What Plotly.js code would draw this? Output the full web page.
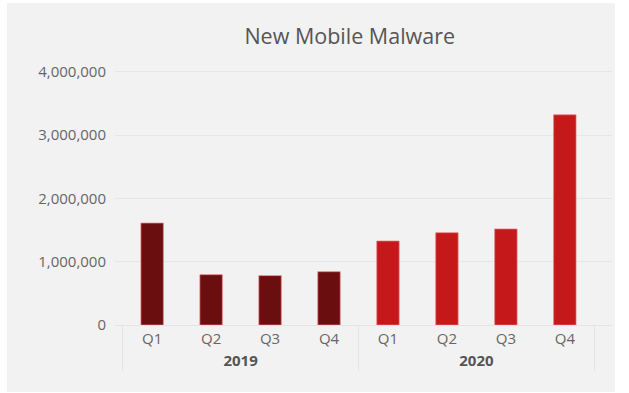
<!DOCTYPE html>
<html>
<head>
<meta charset="utf-8">
<script src="https://cdn.plot.ly/plotly-3.0.1.min.js"></script>
<style>html,body{margin:0;padding:0;background:#fff;}#chart{width:629px;height:393px;}</style>
</head>
<body>
<div id="chart"></div>
<script>
const years = ["2019","2019","2019","2019","2020","2020","2020","2020"];
const quarters = ["Q1","Q2","Q3","Q4","Q1","Q2","Q3","Q4"];
const malware = [1610000, 795000, 780000, 842000, 1327000, 1458000, 1517000, 3320000];
const barColors = ["#6b0e10","#6b0e10","#6b0e10","#6b0e10","#c4181b","#c4181b","#c4181b","#c4181b"];
const yTicks = [0, 1000000, 2000000, 3000000, 4000000];
const yTickText = ["0","1,000,000","2,000,000","3,000,000","4,000,000"];

const trace = {
  type: "bar",
  x: [years, quarters],
  y: malware,
  marker: {color: barColors, line: {color: "rgba(235,120,120,0.7)", width: 1}},
  hoverinfo: "none"
};

const layout = {
  width: 629, height: 393,
  paper_bgcolor: "#ffffff",
  plot_bgcolor: "rgba(0,0,0,0)",
  margin: {l: 115, r: 17, t: 68, b: 68},
  bargap: 0.62,
  showlegend: false,
  title: {text: "New Mobile Malware", x: 0.556, xanchor: "center", y: 0.907, yanchor: "middle",
          font: {family: "Open Sans", size: 21.5, color: "#555555"}},
  font: {family: "Open Sans", color: "#666666"},
  xaxis: {
    type: "multicategory",
    range: [-0.63, 7.8],
    showgrid: false,
    showline: true, linecolor: "#e4e4e4", linewidth: 1,
    showdividers: true, dividercolor: "#e4e4e4", dividerwidth: 1,
    ticks: "",
    tickfont: {family: "Open Sans", size: 15, color: "#666666"}
  },
  yaxis: {
    range: [0, 4060000],
    tickvals: yTicks, ticktext: yTickText,
    showgrid: true, gridcolor: "#e6e6e6", gridwidth: 1,
    zeroline: false, showline: false, ticks: "",
    ticklabelstandoff: 8,
    tickfont: {family: "Open Sans", size: 15, color: "#666666"}
  },
  shapes: [{
    type: "rect", xref: "paper", yref: "paper", layer: "below",
    x0: -108/497, x1: (615-115)/497, y0: -67/257, y1: (325-3)/257,
    fillcolor: "#f2f2f2", line: {width: 0}
  }]
};

Plotly.newPlot("chart", [trace], layout, {displayModeBar: false, staticPlot: true}).then(function(){
  document.querySelectorAll(".xaxislayer-above text").forEach(function(t){
    if (t.textContent === "2019" || t.textContent === "2020") { t.style.fontWeight = "bold"; t.style.fill = "#555555"; }
  });
});
</script>
</body>
</html>
